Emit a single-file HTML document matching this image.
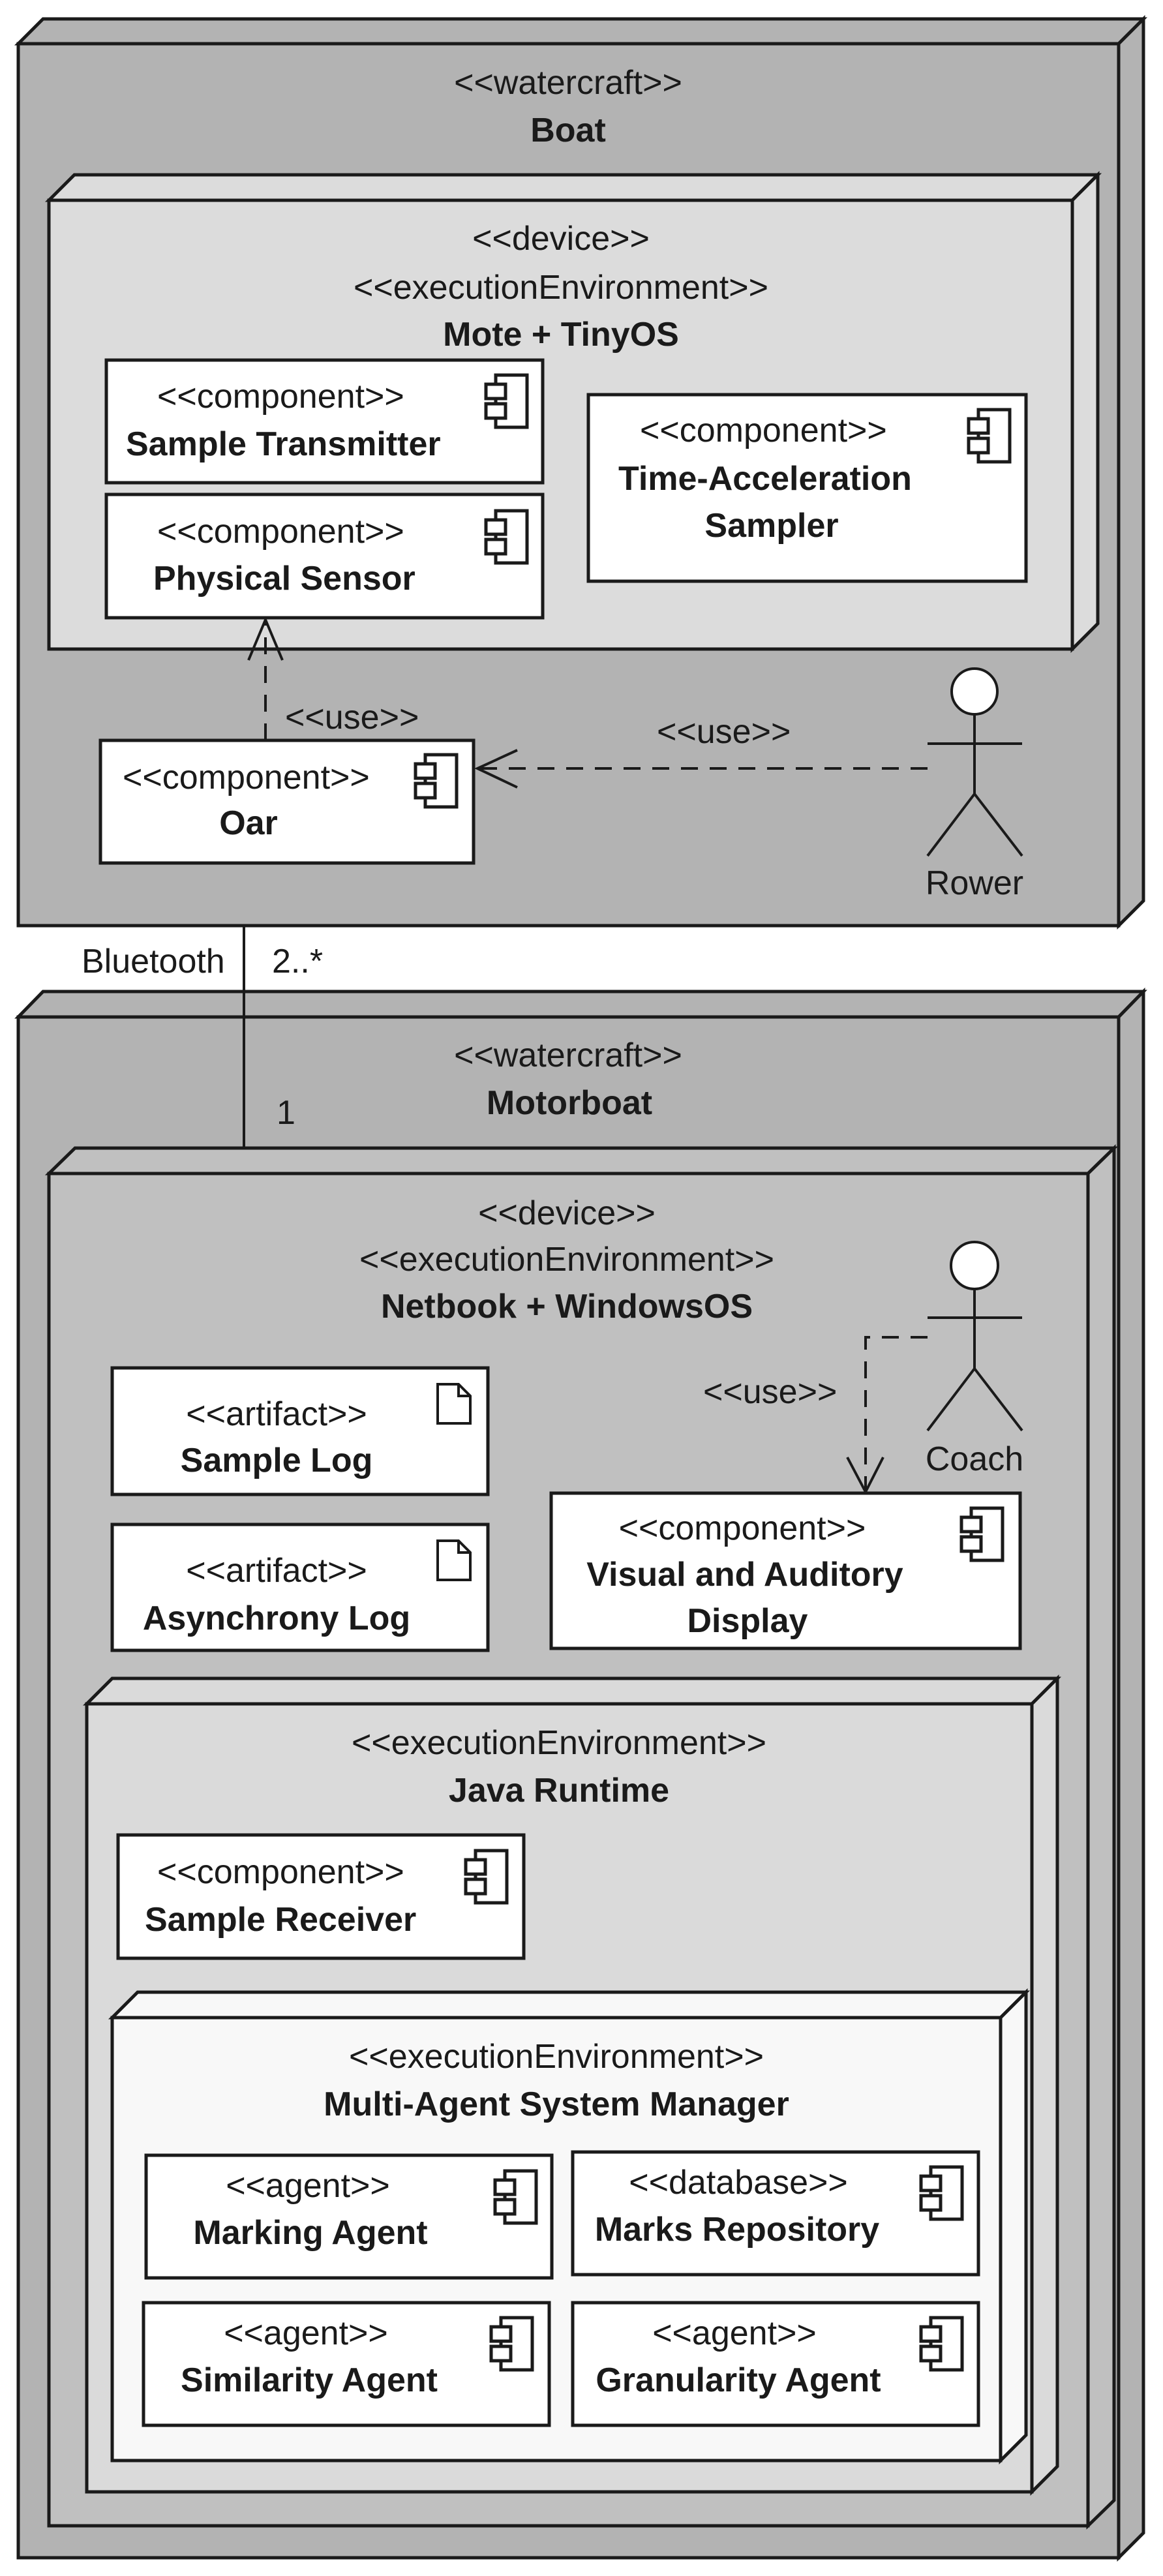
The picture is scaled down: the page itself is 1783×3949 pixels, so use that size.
<!DOCTYPE html>
<html><head><meta charset="utf-8"><style>
html,body{margin:0;padding:0;background:#fff}
svg{display:block}
text{font-family:"Liberation Sans",Arial,sans-serif;font-size:52px;fill:#1a1a1a}
.b{font-weight:bold}
</style></head><body>
<svg width="1783" height="3949" viewBox="0 0 1783 3949" xmlns="http://www.w3.org/2000/svg">
<defs>
<g id="ci" fill="#fff" stroke="#1a1a1a" stroke-width="5">
<rect x="15" y="0" width="48" height="80"/>
<rect x="0" y="14" width="30" height="22"/>
<rect x="0" y="44" width="30" height="22"/>
</g>
<g id="ai" fill="#fff" stroke="#1a1a1a" stroke-width="4">
<path d="M0,0 H32 L50,18 V60 H0 Z M32,0 V18 H50"/>
</g>
</defs>
<g stroke="#1a1a1a" stroke-width="5" stroke-linejoin="miter">
<polygon points="28,67 66,29 1753,29 1715,67" fill="#b3b3b3"/>
<polygon points="1715,67 1753,29 1753,1381 1715,1419" fill="#b3b3b3"/>
<rect x="28" y="67" width="1687" height="1352" fill="#b3b3b3"/>
<polygon points="75,307 114,268 1683,268 1644,307" fill="#dcdcdc"/>
<polygon points="1644,307 1683,268 1683,956 1644,995" fill="#dcdcdc"/>
<rect x="75" y="307" width="1569" height="688" fill="#dcdcdc"/>
<rect x="163" y="552" width="669" height="188" fill="#fff"/>
<rect x="163" y="758" width="669" height="189" fill="#fff"/>
<rect x="902" y="605" width="671" height="286" fill="#fff"/>
<rect x="154" y="1135" width="572" height="188" fill="#fff"/>
<polygon points="28,1559 66,1520 1753,1520 1715,1559" fill="#b3b3b3"/>
<polygon points="1715,1559 1753,1520 1753,3883 1715,3921" fill="#b3b3b3"/>
<rect x="28" y="1559" width="1687" height="2362" fill="#b3b3b3"/>
<polygon points="75,1799 115,1760 1708,1760 1668,1799" fill="#c0c0c0"/>
<polygon points="1668,1799 1708,1760 1708,3833 1668,3872" fill="#c0c0c0"/>
<rect x="75" y="1799" width="1593" height="2073" fill="#c0c0c0"/>
<rect x="172" y="2097" width="576" height="194" fill="#fff"/>
<rect x="172" y="2337" width="576" height="193" fill="#fff"/>
<rect x="845" y="2289" width="719" height="238" fill="#fff"/>
<polygon points="133,2612 172,2573 1621,2573 1582,2612" fill="#dadada"/>
<polygon points="1582,2612 1621,2573 1621,3781 1582,3820" fill="#dadada"/>
<rect x="133" y="2612" width="1449" height="1208" fill="#dadada"/>
<rect x="181" y="2813" width="622" height="189" fill="#fff"/>
<polygon points="172,3093 211,3054 1573,3054 1534,3093" fill="#f8f8f8"/>
<polygon points="1534,3093 1573,3054 1573,3733 1534,3772" fill="#f8f8f8"/>
<rect x="172" y="3093" width="1362" height="679" fill="#f8f8f8"/>
<rect x="224" y="3304" width="622" height="188" fill="#fff"/>
<rect x="878" y="3299" width="622" height="188" fill="#fff"/>
<rect x="220" y="3530" width="622" height="188" fill="#fff"/>
<rect x="878" y="3530" width="622" height="188" fill="#fff"/>
</g>
<use href="#ci" x="745" y="575"/>
<use href="#ci" x="745" y="783"/>
<use href="#ci" x="1485" y="628"/>
<use href="#ci" x="637" y="1157"/>
<use href="#ci" x="1474" y="2312"/>
<use href="#ci" x="714" y="2837"/>
<use href="#ci" x="759" y="3328"/>
<use href="#ci" x="1412" y="3322"/>
<use href="#ci" x="753" y="3553"/>
<use href="#ci" x="1412" y="3553"/>
<use href="#ai" x="671" y="2122"/>
<use href="#ai" x="671" y="2362"/>
<g stroke="#1a1a1a" stroke-width="4" fill="none">
<line x1="407" y1="1135" x2="407" y2="955" stroke-dasharray="26,18"/>
<polyline points="381,1012 407,950 433,1012"/>
<line x1="1422" y1="1178" x2="735" y2="1178" stroke-dasharray="26,18"/>
<polyline points="793,1150 732,1178 793,1207"/>
<polyline points="1422,2050 1327,2050 1327,2284" stroke-dasharray="26,18"/>
<polyline points="1299,2234 1327,2287 1354,2234"/>
<line x1="374" y1="1419" x2="374" y2="1760"/>
<circle cx="1494" cy="1060" r="35" fill="#fff"/>
<line x1="1494" y1="1095" x2="1494" y2="1217"/>
<line x1="1422" y1="1140" x2="1567" y2="1140"/>
<polyline points="1422,1312 1494,1217 1567,1312"/>
<circle cx="1494" cy="1940" r="36" fill="#fff"/>
<line x1="1494" y1="1976" x2="1494" y2="2098"/>
<line x1="1422" y1="2020" x2="1567" y2="2020"/>
<polyline points="1422,2193 1494,2098 1567,2193"/>
</g>
<g text-anchor="middle">
<text x="871" y="144">&lt;&lt;watercraft&gt;&gt;</text>
<text x="871" y="217" class="b">Boat</text>
<text x="860" y="383">&lt;&lt;device&gt;&gt;</text>
<text x="860" y="458">&lt;&lt;executionEnvironment&gt;&gt;</text>
<text x="860" y="530" class="b">Mote + TinyOS</text>
<text x="1183" y="823" class="b">Sampler</text>
<text x="381" y="1279" class="b">Oar</text>
<text x="1494" y="1371">Rower</text>
<text x="871" y="1635">&lt;&lt;watercraft&gt;&gt;</text>
<text x="873" y="1708" class="b">Motorboat</text>
<text x="869" y="1877">&lt;&lt;device&gt;&gt;</text>
<text x="869" y="1948">&lt;&lt;executionEnvironment&gt;&gt;</text>
<text x="869" y="2020" class="b">Netbook + WindowsOS</text>
<text x="424" y="2185">&lt;&lt;artifact&gt;&gt;</text>
<text x="424" y="2256" class="b">Sample Log</text>
<text x="424" y="2425">&lt;&lt;artifact&gt;&gt;</text>
<text x="424" y="2498" class="b">Asynchrony Log</text>
<text x="1138" y="2360">&lt;&lt;component&gt;&gt;</text>
<text x="1142" y="2431" class="b">Visual and Auditory</text>
<text x="1146" y="2502" class="b">Display</text>
<text x="1494" y="2254">Coach</text>
<text x="857" y="2689">&lt;&lt;executionEnvironment&gt;&gt;</text>
<text x="857" y="2762" class="b">Java Runtime</text>
<text x="853" y="3170">&lt;&lt;executionEnvironment&gt;&gt;</text>
<text x="853" y="3243" class="b">Multi-Agent System Manager</text>
<text x="472" y="3368">&lt;&lt;agent&gt;&gt;</text>
<text x="476" y="3440" class="b">Marking Agent</text>
<text x="1132" y="3363">&lt;&lt;database&gt;&gt;</text>
<text x="1130" y="3435" class="b">Marks Repository</text>
<text x="469" y="3594">&lt;&lt;agent&gt;&gt;</text>
<text x="474" y="3666" class="b">Similarity Agent</text>
<text x="1126" y="3594">&lt;&lt;agent&gt;&gt;</text>
<text x="1132" y="3666" class="b">Granularity Agent</text>
</g>
<text x="241" y="625">&lt;&lt;component&gt;&gt;</text>
<text x="193" y="698" class="b">Sample Transmitter</text>
<text x="241" y="832">&lt;&lt;component&gt;&gt;</text>
<text x="235" y="904" class="b">Physical Sensor</text>
<text x="981" y="677">&lt;&lt;component&gt;&gt;</text>
<text x="948" y="751" class="b">Time-Acceleration</text>
<text x="188" y="1209">&lt;&lt;component&gt;&gt;</text>
<text x="437" y="1117">&lt;&lt;use&gt;&gt;</text>
<text x="1007" y="1139">&lt;&lt;use&gt;&gt;</text>
<text x="125" y="1491">Bluetooth</text>
<text x="417" y="1491">2..*</text>
<text x="424" y="1723">1</text>
<text x="1078" y="2151">&lt;&lt;use&gt;&gt;</text>
<text x="241" y="2887">&lt;&lt;component&gt;&gt;</text>
<text x="222" y="2960" class="b">Sample Receiver</text>
</svg>
</body></html>
